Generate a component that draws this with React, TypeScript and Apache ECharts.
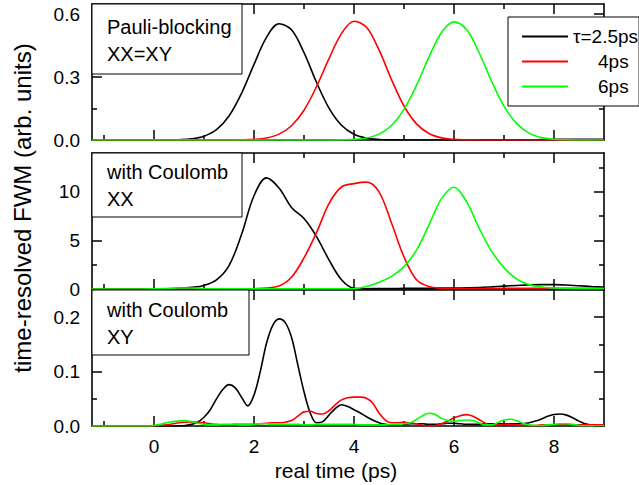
import React, { useEffect, useRef } from "react";
import * as echarts from "echarts";

const FONT = '"Liberation Sans", Arial, Helvetica, sans-serif';

// ---------- shared x grids ----------
const xsA = [
  -1.25, -1, -0.75, -0.5, -0.25, 0, 0.25, 0.5, 0.75, 1, 1.25, 1.5, 1.75, 2,
  2.25, 2.5, 2.75, 3, 3.25, 3.5, 3.75, 4, 4.25, 4.5, 4.75, 5, 5.25, 5.5, 5.75,
  6, 6.25, 6.5, 6.75, 7, 7.25, 7.5, 7.75, 8, 8.25, 8.5, 8.75, 9,
];
const xsB = [
  -1.25, -1.125, -1, -0.875, -0.75, -0.625, -0.5, -0.375, -0.25, -0.125, 0,
  0.125, 0.25, 0.375, 0.5, 0.625, 0.75, 0.875, 1, 1.125, 1.25, 1.375, 1.5,
  1.625, 1.75, 1.875, 2, 2.125, 2.25, 2.375, 2.5, 2.625, 2.75, 2.875, 3,
  3.125, 3.25, 3.375, 3.5, 3.625, 3.75, 3.875, 4, 4.125, 4.25, 4.375, 4.5,
  4.625, 4.75, 4.875, 5, 5.125, 5.25, 5.375, 5.5, 5.625, 5.75, 5.875, 6,
  6.125, 6.25, 6.375, 6.5, 6.625, 6.75, 6.875, 7, 7.125, 7.25, 7.375, 7.5,
  7.625, 7.75, 7.875, 8, 8.125, 8.25, 8.375, 8.5, 8.625, 8.75, 8.875, 9,
];

// ---------- panel 1: Pauli-blocking XX=XY ----------
const pauliBlack = [
  0, 0, 0, 0, 0, 0, 0.0003, 0.0013, 0.0053, 0.018, 0.049, 0.114, 0.222, 0.36,
  0.489, 0.554, 0.525, 0.416, 0.275, 0.152, 0.07, 0.027, 0.009, 0.0024, 0.0005,
  0, 0, 0, 0, 0, 0, 0, 0, 0, 0, 0.001, 0.002, 0.003, 0.003, 0.003, 0.003, 0.003,
];
const pauliRed = [
  0, 0, 0, 0, 0, 0, 0, 0, 0, 0, 0, 0, 0.0007, 0.0029, 0.0096, 0.028, 0.068,
  0.142, 0.254, 0.388, 0.507, 0.566, 0.537, 0.429, 0.288, 0.162, 0.077, 0.031,
  0.01, 0.003, 0.0007, 0, 0, 0, 0, 0, 0, 0, 0, 0, 0, 0,
];
const pauliGreen = [
  0, 0, 0, 0, 0, 0, 0, 0, 0, 0, 0, 0, 0, 0, 0, 0, 0, 0, 0, 0.0001, 0.0007,
  0.0028, 0.0096, 0.028, 0.069, 0.146, 0.26, 0.396, 0.512, 0.563, 0.526, 0.417,
  0.281, 0.161, 0.079, 0.033, 0.0115, 0.0034, 0.0009, 0.0002, 0, 0,
];

// ---------- panel 2: with Coulomb XX ----------
const xxBlack = [
  0, 0, 0, 0, 0, 0, 0.02, 0.07, 0.17, 0.37, 0.93, 2.4, 5.6, 9.6, 11.44, 10.4,
  8.4, 7.25, 5.4, 3.0, 0.95, 0.08, 0.03, 0.04, 0.05, 0.06, 0.07, 0.08, 0.09,
  0.1, 0.12, 0.15, 0.22, 0.3, 0.36, 0.42, 0.45, 0.45, 0.41, 0.33, 0.26, 0.2,
];
const xxRed = [
  0, 0, 0, 0, 0, 0, 0, 0, 0, 0, 0, 0, 0, 0.03, 0.1, 0.3, 1.2, 3.2, 5.8, 8.8,
  10.5, 10.85, 11.0, 10.0, 6.8, 3.3, 0.95, 0.25, 0.08, 0.05, 0.05, 0.05, 0.05,
  0.06, 0.06, 0.07, 0.07, 0.07, 0.07, 0.07, 0.06, 0.06,
];
const xxGreen = [
  0, 0, 0, 0, 0, 0.01, 0.05, 0.1, 0.1, 0.05, 0.02, 0.01, 0.01, 0.01, 0.01,
  0.01, 0.01, 0.01, 0.01, 0.01, 0.01, 0.03, 0.25, 0.7, 1.3, 2.3, 4.0, 6.6, 9.3,
  10.48, 9.0, 6.3, 3.9, 2.2, 1.05, 0.45, 0.2, 0.1, 0.05, 0.03, 0.02, 0.02,
];

// ---------- panel 3: with Coulomb XY ----------
const xyBlack = [
  0, 0, 0, 0, 0, 0, 0, 0, 0, 0, 0, 0, 0, 0, 0, 0.001, 0.003, 0.007, 0.016,
  0.03, 0.05, 0.067, 0.076, 0.07, 0.053, 0.037, 0.057, 0.1, 0.152, 0.185,
  0.197, 0.19, 0.163, 0.113, 0.063, 0.024, 0.006, 0.008, 0.02, 0.032, 0.039,
  0.036, 0.03, 0.024, 0.017, 0.011, 0.006, 0.003, 0.002, 0.002, 0.003, 0.004,
  0.004, 0.004, 0.003, 0.003, 0.004, 0.005, 0.005, 0.004, 0.003, 0.003, 0.003,
  0.004, 0.004, 0.004, 0.004, 0.004, 0.004, 0.004, 0.006, 0.009, 0.013, 0.018,
  0.021, 0.022, 0.02, 0.015, 0.009, 0.004, 0.002, 0.001, 0.001,
];
const xyRed = [
  0, 0, 0, 0, 0, 0, 0, 0, 0, 0, 0.0005, 0.001, 0.002, 0.004, 0.006, 0.007,
  0.0075, 0.007, 0.006, 0.004, 0.003, 0.002, 0.002, 0.003, 0.003, 0.003, 0.003,
  0.004, 0.005, 0.006, 0.006, 0.007, 0.01, 0.018, 0.026, 0.027, 0.023, 0.022,
  0.028, 0.039, 0.048, 0.052, 0.053, 0.053, 0.051, 0.042, 0.024, 0.011, 0.006,
  0.006, 0.007, 0.006, 0.004, 0.001, 0, 0.001, 0.004, 0.009, 0.015, 0.019,
  0.021, 0.018, 0.012, 0.005, 0.001, 0.002, 0.003, 0.003, 0.002, 0.001, 0.001,
  0.001, 0.002, 0.002, 0.002, 0.003, 0.003, 0.002, 0.002, 0.002, 0.002, 0.002,
  0.002,
];
const xyGreen = [
  0, 0, 0, 0, 0, 0, 0, 0, 0, 0, 0.001, 0.003, 0.006, 0.008, 0.0095, 0.0095,
  0.008, 0.005, 0.003, 0.002, 0.002, 0.003, 0.003, 0.003, 0.002, 0.002, 0.003,
  0.004, 0.004, 0.003, 0.003, 0.003, 0.003, 0.003, 0.002, 0.002, 0.003, 0.003,
  0.003, 0.003, 0.003, 0.003, 0.003, 0.002, 0.002, 0.002, 0.002, 0.002, 0.003,
  0.003, 0.004, 0.006, 0.012, 0.019, 0.0235, 0.021, 0.014, 0.01, 0.009, 0.01,
  0.011, 0.01, 0.006, 0.002, 0.002, 0.006, 0.011, 0.0125, 0.01, 0.005, 0.002,
  0.001, 0.001, 0.002, 0.003, 0.004, 0.004, 0.003, 0.001, 0.0005, 0.0005,
  0.0005, 0.0005,
];

// ---------- axes / ticks ----------
const X_MIN = -1.24;
const X_MAX = 9;
const X_MAJOR = [0, 2, 4, 6, 8];
const X_MINOR = [-1, 1, 3, 5, 7];
const Y_MAX = [0.648, 14, 0.25];
const Y_MAJOR = [
  [0, 0.3, 0.6],
  [0, 5, 10],
  [0, 0.1, 0.2],
];
const Y_MINOR = [
  [0.15, 0.45],
  [2.5, 7.5, 12.5],
  [0.05, 0.15],
];
const Y_DECIMALS = [1, 0, 1];

const SERIES_NAMES = ["τ=2.5ps", "4ps", "6ps"];
const COLORS = ["#000000", "#ff0000", "#00ff00"];

const PANEL_X = [xsA, xsA, xsB];
const PANEL_DATA = [
  [pauliBlack, pauliRed, pauliGreen],
  [xxBlack, xxRed, xxGreen],
  [xyBlack, xyRed, xyGreen],
];

const BOX_TEXT = [
  ["Pauli-blocking", "XX=XY"],
  ["with Coulomb", "XX"],
  ["with Coulomb", "XY"],
];

const GRIDS = [
  { left: 92, top: 4, width: 512, height: 136 },
  { left: 92, top: 153, width: 512, height: 136 },
  { left: 92, top: 290, width: 512, height: 136 },
];
const BOXES = [
  { x: 92, y: 4, w: 150, h: 70, t1: 27, t2: 53.5 },
  { x: 92, y: 153, w: 150, h: 64, t1: 171.5, t2: 199 },
  { x: 92, y: 290, w: 157, h: 65, t1: 310, t2: 336.5 },
];

function makeAxis(
  g: number,
  position: string,
  min: number,
  max: number,
  ticks: number[],
  len: number,
  showLine: boolean,
  label: any
) {
  return {
    type: "value",
    gridIndex: g,
    position,
    min,
    max,
    axisLine: {
      show: showLine,
      onZero: false,
      lineStyle: { color: "#000", width: 1.6 },
    },
    axisTick: {
      show: true,
      inside: true,
      length: len,
      customValues: ticks,
      lineStyle: { color: "#000", width: 1.5 },
    },
    minorTick: { show: false },
    splitLine: { show: false },
    axisLabel: label || { show: false },
  };
}

export default function App() {
  const ref = useRef<HTMLDivElement>(null);

  useEffect(() => {
    if (!ref.current) return;
    const chart = echarts.init(ref.current, null, { renderer: "svg" });

    const xAxis: any[] = [];
    const yAxis: any[] = [];
    const series: any[] = [];
    const graphic: any[] = [];

    GRIDS.forEach((_, g) => {
      const xLabel =
        g === 2
          ? {
              show: true,
              customValues: X_MAJOR,
              fontSize: 19,
              fontFamily: FONT,
              color: "#000",
              margin: 11,
              formatter: (v: number) => String(v),
            }
          : null;
      xAxis.push(makeAxis(g, "bottom", X_MIN, X_MAX, X_MAJOR, 10, true, xLabel));
      xAxis.push(makeAxis(g, "bottom", X_MIN, X_MAX, X_MINOR, 5, false, null));
      xAxis.push(makeAxis(g, "top", X_MIN, X_MAX, X_MAJOR, 10, true, null));
      xAxis.push(makeAxis(g, "top", X_MIN, X_MAX, X_MINOR, 5, false, null));

      const dec = Y_DECIMALS[g];
      const yLabel = {
        show: true,
        customValues: Y_MAJOR[g],
        fontSize: 19,
        fontFamily: FONT,
        color: "#000",
        margin: 12,
        formatter: (v: number) => v.toFixed(dec),
      };
      yAxis.push(makeAxis(g, "left", 0, Y_MAX[g], Y_MAJOR[g], 10, true, yLabel));
      yAxis.push(makeAxis(g, "left", 0, Y_MAX[g], Y_MINOR[g], 5, false, null));
      yAxis.push(makeAxis(g, "right", 0, Y_MAX[g], Y_MAJOR[g], 10, true, null));
      yAxis.push(makeAxis(g, "right", 0, Y_MAX[g], Y_MINOR[g], 5, false, null));

      PANEL_DATA[g].forEach((vals, s) => {
        const xs = PANEL_X[g];
        series.push({
          type: "line",
          name: SERIES_NAMES[s],
          xAxisIndex: g * 4,
          yAxisIndex: g * 4,
          data: xs.map((x, i) => [x, vals[i]]),
          showSymbol: false,
          symbol: "none",
          smooth: 0.35,
          lineStyle: { color: COLORS[s], width: 1.6 },
          itemStyle: { color: COLORS[s] },
          z: 2 + s,
        });
      });

      const b = BOXES[g];
      graphic.push({
        type: "rect",
        z: 100,
        shape: { x: b.x, y: b.y, width: b.w, height: b.h },
        style: { fill: "#fff", stroke: "#000", lineWidth: 1 },
      });
      graphic.push({
        type: "text",
        z: 101,
        x: 107,
        y: b.t1,
        style: {
          text: BOX_TEXT[g][0],
          font: `20px ${FONT}`,
          fill: "#000",
          textAlign: "left",
          textVerticalAlign: "middle",
        },
      });
      graphic.push({
        type: "text",
        z: 101,
        x: 107,
        y: b.t2,
        style: {
          text: BOX_TEXT[g][1],
          font: `20px ${FONT}`,
          fill: "#000",
          textAlign: "left",
          textVerticalAlign: "middle",
        },
      });
    });

    graphic.push({
      type: "text",
      z: 101,
      x: 22,
      y: 208,
      rotation: Math.PI / 2,
      style: {
        text: "time-resolved FWM (arb. units)",
        font: `24px ${FONT}`,
        fill: "#000",
        textAlign: "center",
        textVerticalAlign: "middle",
      },
    });
    graphic.push({
      type: "text",
      z: 101,
      x: 336,
      y: 470,
      style: {
        text: "real time (ps)",
        font: `21px ${FONT}`,
        fill: "#000",
        textAlign: "center",
        textVerticalAlign: "middle",
      },
    });

    chart.setOption({
      animation: false,
      backgroundColor: "#fff",
      grid: GRIDS.map((g) => ({ ...g, containLabel: false })),
      xAxis,
      yAxis,
      series,
      graphic,
      legend: {
        data: SERIES_NAMES,
        orient: "vertical",
        left: 508,
        top: 17,
        padding: [10, 1, 10, 14],
        itemWidth: 46,
        itemHeight: 2,
        itemGap: 6,
        icon: "rect",
        backgroundColor: "#fff",
        borderColor: "#000",
        borderWidth: 1,
        z: 120,
        selectedMode: false,
        formatter: (n: string) => (n === SERIES_NAMES[0] ? n : "{p|}" + n),
        textStyle: {
          fontSize: 19,
          fontFamily: FONT,
          color: "#000",
          rich: { p: { width: 25 } },
        },
      },
    });

    return () => chart.dispose();
  }, []);

  return (
    <div
      ref={ref}
      style={{ position: "absolute", left: 0, top: 0, width: 639, height: 485 }}
    />
  );
}
